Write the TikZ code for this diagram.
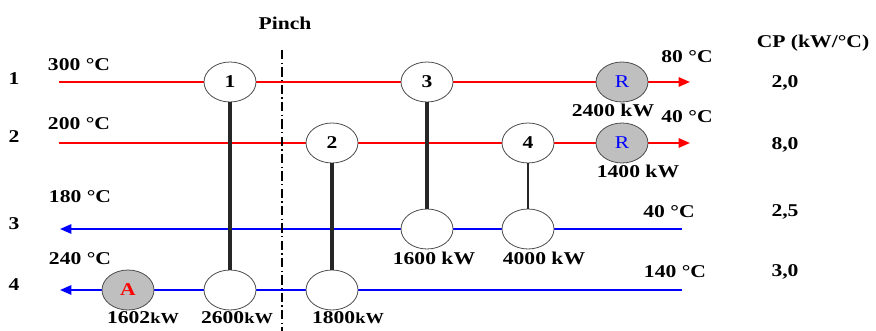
\documentclass[tikz,border=0pt]{standalone}
\usepackage{fontspec}
\setmainfont{Liberation Serif}[FakeStretch=1.2]
\usetikzlibrary{shapes.geometric, arrows.meta}
\newcommand{\skw}{{\fontsize{11.5}{13}\selectfont kW}}

\begin{document}
\begin{tikzpicture}[x=0.75pt, y=-0.75pt,
		every node/.style={font=\fontsize{13.5}{15}\selectfont\bfseries, inner sep=0pt},
		hx/.style={draw=black!70, line width=0.6pt, ellipse, minimum width=39pt, minimum height=30pt, fill=white},
		ut/.style={hx, fill=black!25},
		tip/.style={-{Triangle[length=8.5pt, width=7pt]}},
		hot/.style={tip, red, line width=1.4pt},
		cold/.style={tip, blue, line width=1.4pt},
		lk/.style={black!85, line width=2.4pt}]
	\useasboundingbox (0,0) rectangle (876,331);
	% ends of the four streams
	\coordinate (s1a) at (59,82);   \coordinate (s1b) at (690,82);
	\coordinate (s2a) at (59,143);  \coordinate (s2b) at (690,143);
	\coordinate (s3a) at (682,229); \coordinate (s3b) at (60,229);
	\coordinate (s4a) at (682,290); \coordinate (s4b) at (60,290);
	\draw[hot] (s1a) -- (s1b);
	\draw[hot] (s2a) -- (s2b);
	\draw[cold] (s3a) -- (s3b);
	\draw[cold] (s4a) -- (s4b);
	% pinch
	\coordinate (pt) at (282,50);
	\coordinate (pb) at (282,331);
	\draw[line width=2pt, dash pattern=on 7pt off 2.5pt on 1pt off 2.5pt] (pt) -- (pb);
	\node (pinch) at (285,23) {Pinch};
	\node (cphd) at (813,43) {CP (kW/°C)};
	% exchangers
	\node[hx] (h1) at (230,82)  {1};
	\node[hx] (h2) at (332,143) {2};
	\node[hx] (h3) at (427,82)  {3};
	\node[hx] (h4) at (528,143) {4};
	\node[hx] (c1) at (230,290) {};
	\node[hx] (c2) at (332,290) {};
	\node[hx] (c3) at (427,229) {};
	\node[hx] (c4) at (528,229) {};
	\node[ut] (r1) at (622,82)  {\mdseries\color{blue}R};
	\node[ut] (r2) at (622,143) {\mdseries\color{blue}R};
	\node[ut] (ah) at (128,290) {\color{red}A};
	\foreach \x/\y in {h1/c1, h2/c2, h3/c3}
		\draw[lk] (\x) -- (\y);
	\draw[black!85, line width=1.3pt] (h4) -- (c4);
	% streams: number, inlet, outlet, CP
	\node (n1) at (14,79)  {1};
	\node (n2) at (14,137) {2};
	\node (n3) at (14,224) {3};
	\node (n4) at (14,285) {4};
	\node (ti1) at (79,65)  {300 °C};
	\node (ti2) at (79,124) {200 °C};
	\node (ti3) at (80,197) {180 °C};
	\node (ti4) at (80,259) {240 °C};
	\node (to1) at (687,57)  {80 °C};
	\node (to2) at (687,117) {40 °C};
	\node (to3) at (669,212) {40 °C};
	\node (to4) at (675,272) {140 °C};
	\node (cp1) at (785,83)  {2,0};
	\node (cp2) at (785,145) {8,0};
	\node (cp3) at (785,212) {2,5};
	\node (cp4) at (785,272) {3,0};
	% duties
	\node (qr1) at (613,110) {2400 kW};
	\node (qr2) at (638,171) {1400 kW};
	\node (q3)  at (434,258) {1600 kW};
	\node (q4)  at (544,258) {4000 kW};
	\node (qa)  at (143,318) {1602\skw};
	\node (q1)  at (237,318) {2600\skw};
	\node (q2)  at (348,318) {1800\skw};
\end{tikzpicture}
\end{document}
